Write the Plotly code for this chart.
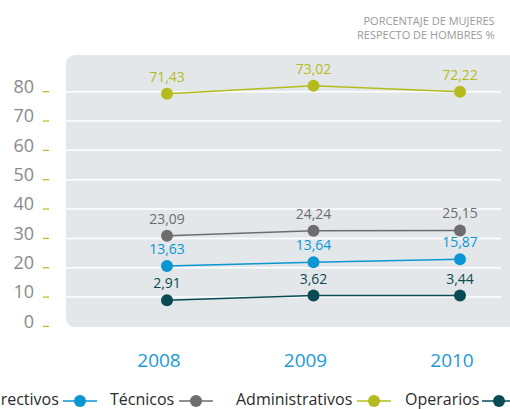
import plotly.graph_objects as go

# ---- data ----
years = [2008, 2009, 2010]
series_names = ["Directivos", "Técnicos", "Administrativos", "Operarios"]
# plotted positions
directivos_y = [20.6, 21.9, 22.9]
tecnicos_y = [30.9, 32.6, 32.7]
administrativos_y = [79.3, 82.0, 80.0]
operarios_y = [8.9, 10.5, 10.5]
# value labels printed at each point
directivos_lbl = ["13,63", "13,64", "15,87"]
tecnicos_lbl = ["23,09", "24,24", "25,15"]
administrativos_lbl = ["71,43", "73,02", "72,22"]
operarios_lbl = ["2,91", "3,62", "3,44"]
y_ticks = [0, 10, 20, 30, 40, 50, 60, 70, 80]
x_tick_labels = ["2008", "2009", "2010"]
title_text = "PORCENTAJE DE MUJERES<br>RESPECTO DE HOMBRES %"

colors = {
    "Directivos": "#0a96d2",
    "Técnicos": "#6d6d6f",
    "Administrativos": "#b3bb1d",
    "Operarios": "#094b53",
}
ys = {"Directivos": directivos_y, "Técnicos": tecnicos_y,
      "Administrativos": administrativos_y, "Operarios": operarios_y}
lbls = {"Directivos": directivos_lbl, "Técnicos": tecnicos_lbl,
        "Administrativos": administrativos_lbl, "Operarios": operarios_lbl}

W, H = 510, 409
L, R, T, B = 66, 0, 55, 82
PW, PH = W - L - R, H - T - B
FONT = "Open Sans"


def px(x):
    return (x - L) / PW


def py(y):
    return (H - B - y) / PH


fig = go.Figure()
for name in series_names:
    fig.add_trace(go.Scatter(
        x=years, y=ys[name], mode="lines+markers+text",
        text=lbls[name], textposition="top center",
        textfont=dict(color=colors[name], size=14, family=FONT),
        line=dict(color=colors[name], width=1.5),
        marker=dict(color=colors[name], size=12),
        showlegend=False, hoverinfo="skip", cliponaxis=False,
    ))

shapes = []
# rounded plot background
x0, x1, y0, y1 = px(66), px(520), py(327), py(55)
rx, ry = 10 / PW, 10 / PH
path = (f"M {x0+rx},{y0} L {x1},{y0} L {x1},{y1} L {x0+rx},{y1} "
        f"Q {x0},{y1} {x0},{y1-ry} L {x0},{y0+ry} Q {x0},{y0} {x0+rx},{y0} Z")
shapes.append(dict(type="path", path=path, xref="paper", yref="paper",
                   fillcolor="#e4e7ea", line=dict(width=0), layer="below"))
for v in y_ticks:
    if v > 0:
        shapes.append(dict(type="line", xref="paper", yref="y", x0=0, x1=px(501),
                           y0=v, y1=v, line=dict(color="white", width=1.5),
                           layer="below"))
    shapes.append(dict(type="line", xref="paper", yref="y", x0=px(43), x1=px(49),
                       y0=v, y1=v, line=dict(color="#b3bb1d", width=1.2)))

# custom legend: text then line-marker-line
legend_items = [("Directivos", 61, 63), ("Técnicos", 176, 179),
                ("Administrativos", 354, 357), ("Operarios", 481, 482)]
annotations = []
ly = 399
for name, tx, sx in legend_items:
    annotations.append(dict(text=name, x=px(tx), y=py(ly), xref="paper", yref="paper",
                            xanchor="right", yanchor="middle", showarrow=False,
                            font=dict(size=16, color="#2b2b2b", family=FONT)))
    shapes.append(dict(type="line", xref="paper", yref="paper", x0=px(sx), x1=px(sx + 34),
                       y0=py(ly + 2), y1=py(ly + 2), line=dict(color=colors[name], width=1.5)))
    cx = sx + 17
    shapes.append(dict(type="circle", xref="paper", yref="paper",
                       x0=px(cx - 6), x1=px(cx + 6), y0=py(ly + 8), y1=py(ly - 4),
                       fillcolor=colors[name], line=dict(width=0)))

annotations.append(dict(text=title_text, x=px(497), y=py(11), xref="paper", yref="paper",
                        xanchor="right", yanchor="top", align="right", showarrow=False,
                        font=dict(size=11, color="#9a9a9a", family=FONT)))

fig.update_layout(
    width=W, height=H, margin=dict(l=L, r=R, t=T, b=B, autoexpand=False),
    paper_bgcolor="white", plot_bgcolor="rgba(0,0,0,0)",
    shapes=shapes, annotations=annotations, showlegend=False,
    xaxis=dict(range=[2008 - 101 / 146.5, 2010 + 50 / 146.5], tickvals=years,
               ticktext=x_tick_labels, showgrid=False, zeroline=False, showline=False,
               tickfont=dict(size=19, color="#1a9ad6", family=FONT),
               ticklabelstandoff=20, ticklabelshift=-8, automargin=False),
    yaxis=dict(range=[-0.2, 92.5], tickvals=y_ticks, ticktext=[str(v) for v in y_ticks],
               showgrid=False, zeroline=False, showline=False,
               tickfont=dict(size=18, color="#8a8a8a", family=FONT),
               ticklabelstandoff=31, ticklabelshift=-5, automargin=False),
)
fig.write_html("out.html", config={"displayModeBar": False},
               post_script="document.body.style.margin='0';document.body.style.overflow='hidden';window.dispatchEvent(new Event('resize'));")
